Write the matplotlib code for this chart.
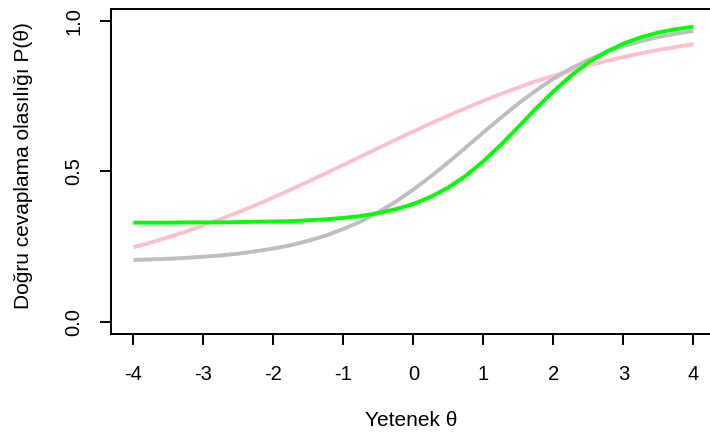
import matplotlib
matplotlib.use("Agg")
import matplotlib.pyplot as plt

# ability grid and probabilities
theta = [-4.0, -3.75, -3.5, -3.25, -3.0, -2.75, -2.5, -2.25, -2.0, -1.75, -1.5,
         -1.25, -1.0, -0.75, -0.5, -0.25, 0.0, 0.25, 0.5, 0.75, 1.0, 1.25, 1.5,
         1.75, 2.0, 2.25, 2.5, 2.75, 3.0, 3.25, 3.5, 3.75, 4.0]

p_gray = [0.206, 0.208, 0.210, 0.213, 0.217, 0.221, 0.227, 0.235, 0.244, 0.255,
          0.270, 0.287, 0.309, 0.334, 0.365, 0.400, 0.440, 0.484, 0.531, 0.580,
          0.630, 0.679, 0.726, 0.769, 0.808, 0.842, 0.871, 0.896, 0.917, 0.933,
          0.947, 0.958, 0.967]

p_pink = [0.248, 0.264, 0.282, 0.300, 0.321, 0.342, 0.365, 0.389, 0.414, 0.440,
          0.467, 0.494, 0.522, 0.550, 0.578, 0.606, 0.633, 0.660, 0.686, 0.711,
          0.735, 0.758, 0.779, 0.800, 0.818, 0.836, 0.852, 0.867, 0.880, 0.893,
          0.904, 0.914, 0.923]

p_green = [0.330, 0.330, 0.330, 0.331, 0.331, 0.331, 0.332, 0.333, 0.334, 0.335,
           0.338, 0.341, 0.346, 0.352, 0.362, 0.375, 0.392, 0.416, 0.447, 0.486,
           0.534, 0.589, 0.648, 0.709, 0.766, 0.818, 0.862, 0.897, 0.925, 0.946,
           0.962, 0.973, 0.981]

x_ticks = [-4, -3, -2, -1, 0, 1, 2, 3, 4]
y_ticks = [0.0, 0.5, 1.0]
y_tick_labels = ["0.0", "0.5", "1.0"]

plt.rcParams["font.family"] = ["Liberation Sans", "DejaVu Sans"]

fig = plt.figure(figsize=(7.1, 4.37), dpi=100)
# plot box runs past the right edge of the picture, like the cropped original
ax = fig.add_axes([111 / 710, 103 / 437, 604.8 / 710, 325 / 437])

ax.plot(theta, p_pink, color="#FFC0CB", lw=2.8, solid_capstyle="butt")
ax.plot(theta, p_gray, color="#BEBEBE", lw=2.8, solid_capstyle="butt")
ax.plot(theta, p_green, color="#00FF00", lw=2.8, solid_capstyle="butt")

ax.set_xlim(-4.32, 4.32)
ax.set_ylim(-0.04, 1.04)
ax.set_xticks(x_ticks)
ax.set_xticklabels([str(v) for v in x_ticks])
ax.set_yticks(y_ticks)
ax.set_yticklabels(y_tick_labels, rotation=90, va="center")

for s in ax.spines.values():
    s.set_linewidth(1.4)
    s.set_color("black")
ax.tick_params(axis="both", direction="out", length=8, width=1.4,
               labelsize=14.5, colors="black")
ax.tick_params(axis="x", pad=14)
ax.tick_params(axis="y", pad=12)

fig.text(24 / 710, 1 - 166 / 437, "Doğru cevaplama olasılığı P(θ)",
         rotation=90, ha="center", va="center", fontsize=15)
fig.text(411 / 710, 1 - 421 / 437, "Yetenek θ",
         ha="center", va="center", fontsize=15)

fig.savefig("out.png", dpi=100)
